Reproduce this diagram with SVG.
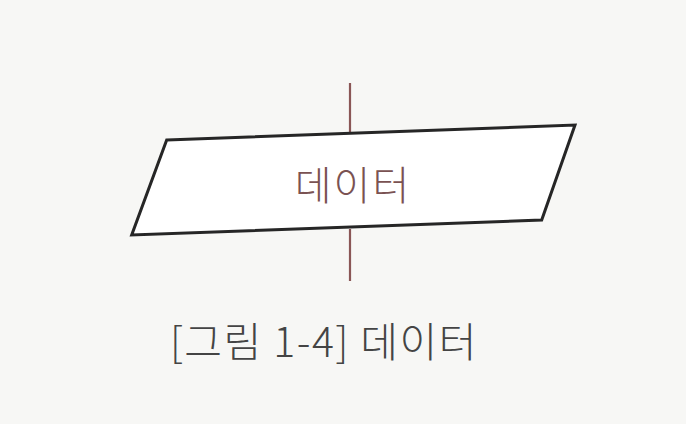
<svg xmlns="http://www.w3.org/2000/svg" width="686" height="424" viewBox="0 0 686 424">
<style>
.shape{fill:#ffffff;stroke:#262626;stroke-width:3;stroke-linejoin:miter}
.conn{stroke:#8a5656;stroke-width:2.2;fill:none}
.label{font-family:"Noto Sans CJK KR","Noto Sans",sans-serif;font-size:40px;font-weight:300;letter-spacing:2px;fill:#7a5252;text-anchor:middle}
.caption{font-family:"Noto Sans CJK KR","Noto Sans",sans-serif;font-size:41px;font-weight:300;letter-spacing:1.5px;fill:#444444;text-anchor:middle}
</style>
<rect width="686" height="424" fill="#f7f7f5"/>
<g id="connectors">
<line class="conn" x1="350" y1="83" x2="350" y2="133"/>
<line class="conn" x1="350" y1="229" x2="350" y2="281"/>
</g>
<g id="data">
<polygon class="shape" points="166.7,140 575,125 541.7,220 131.7,235"/>
<text class="label" x="353" y="200">데이터</text>
</g>
<text class="caption" x="324" y="357">[그림 1-4] 데이터</text>
</svg>
